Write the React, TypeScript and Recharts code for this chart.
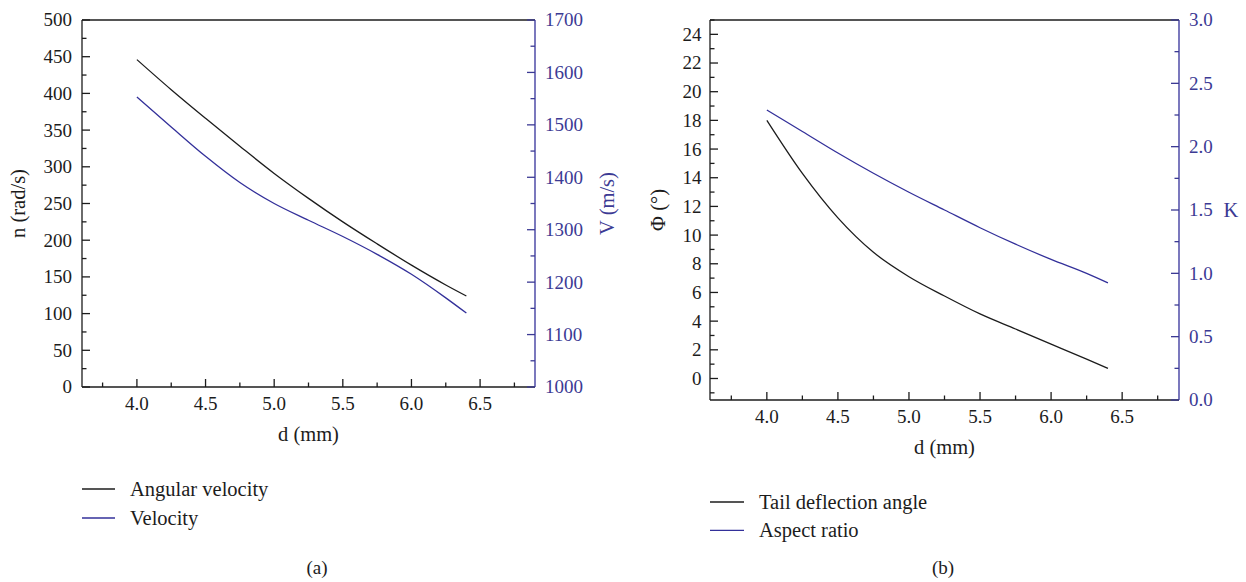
import { Legend, Line, LineChart, ReferenceLine, XAxis, YAxis } from "recharts";

// d (mm) sample points shared by both panels
const diameters = [4.0, 4.25, 4.5, 4.75, 5.0, 5.25, 5.5, 5.75, 6.0, 6.25, 6.4];

// panel (a)
const angularVelocity = [446, 405, 366, 328, 291, 257, 225, 195, 166, 139, 124];
const velocity = [1553, 1496, 1440, 1390, 1350, 1318, 1287, 1253, 1215, 1170, 1141];

// panel (b)
const tailDeflection = [18, 14.3, 11.2, 8.8, 7.1, 5.75, 4.5, 3.45, 2.4, 1.35, 0.7];
const aspectRatio = [2.29, 2.12, 1.95, 1.79, 1.64, 1.5, 1.36, 1.23, 1.11, 1.0, 0.925];

// ticks (major + minor)
const dTicks = [3.75, 4.0, 4.25, 4.5, 4.75, 5.0, 5.25, 5.5, 5.75, 6.0, 6.25, 6.5, 6.75];
const nTicks = [0, 25, 50, 75, 100, 125, 150, 175, 200, 225, 250, 275, 300, 325, 350, 375, 400, 425, 450, 475, 500];
const vTicks = [1000, 1050, 1100, 1150, 1200, 1250, 1300, 1350, 1400, 1450, 1500, 1550, 1600, 1650, 1700];
const phiTicks = [-1, 0, 1, 2, 3, 4, 5, 6, 7, 8, 9, 10, 11, 12, 13, 14, 15, 16, 17, 18, 19, 20, 21, 22, 23, 24, 25];
const kTicks = [0, 0.25, 0.5, 0.75, 1.0, 1.25, 1.5, 1.75, 2.0, 2.25, 2.5, 2.75, 3.0];

const dataA = diameters.map((d, i) => ({ d, n: angularVelocity[i], v: velocity[i] }));
const dataB = diameters.map((d, i) => ({ d, phi: tailDeflection[i], k: aspectRatio[i] }));

const FONT = '"Liberation Serif", "Times New Roman", Tinos';
const BLACK = "#1c1c1c";
const BLUE = "#33309a";
const BLUE_TEXT = "#3c3a94";

type Side = "left" | "right" | "bottom";

const makeTick =
  (side: Side, isMajor: (v: number) => boolean, fmt: (v: number) => string, color: string, gap = 10) =>
  (props: any) => {
    const { x, y, payload } = props;
    const v = payload.value;
    const major = isMajor(v);
    const len = major ? 8 : 4.5;
    const txt = { fill: color, fontSize: 19, style: { fontFamily: FONT } };
    if (side === "left") {
      return (
        <g>
          <line x1={x} x2={x + len} y1={y} y2={y} stroke={color} strokeWidth={1.3} />
          {major && (
            <text x={x - gap} y={y} dy="0.34em" textAnchor="end" {...txt}>
              {fmt(v)}
            </text>
          )}
        </g>
      );
    }
    if (side === "right") {
      return (
        <g>
          <line x1={x} x2={x - len} y1={y} y2={y} stroke={color} strokeWidth={1.3} />
          {major && (
            <text x={x + gap} y={y} dy="0.34em" textAnchor="start" {...txt}>
              {fmt(v)}
            </text>
          )}
        </g>
      );
    }
    return (
      <g>
        <line x1={x} x2={x} y1={y} y2={y - len} stroke={color} strokeWidth={1.3} />
        {major && (
          <text x={x} y={y + 23} textAnchor="middle" {...txt}>
            {fmt(v)}
          </text>
        )}
      </g>
    );
  };

const halfStep = (v: number) => Math.abs(v * 2 - Math.round(v * 2)) < 1e-6;
const fixed1 = (v: number) => v.toFixed(1);

const vLabel = (text: string, dx: number, color: string) => (props: any) => {
  const vb = props.viewBox;
  const cx = vb.x + dx;
  const cy = vb.y + vb.height / 2;
  return (
    <text
      x={cx}
      y={cy}
      textAnchor="middle"
      dominantBaseline="central"
      transform={`rotate(-90 ${cx} ${cy})`}
      fill={color}
      fontSize={20.5}
      style={{ fontFamily: FONT }}
    >
      {text}
    </text>
  );
};

const xLabel = (dy: number) => (props: any) => {
  const vb = props.viewBox;
  return (
    <text x={vb.x + vb.width / 2} y={vb.y + dy} textAnchor="middle" fill={BLACK} fontSize={20.5} style={{ fontFamily: FONT }}>
      d (mm)
    </text>
  );
};

const legendContent = (items: { label: string; color: string }[], rowGap: number, textX: number) => () =>
  (
    <svg width={320} height={70}>
      {items.map((it, i) => (
        <g key={it.label}>
          <line x1={0} x2={textX - 15} y1={13 + i * rowGap} y2={13 + i * rowGap} stroke={it.color} strokeWidth={1.3} />
          <text x={textX} y={13 + i * rowGap} dy="0.34em" fill={BLACK} fontSize={20.5} style={{ fontFamily: FONT }}>
            {it.label}
          </text>
        </g>
      ))}
    </svg>
  );

const Caption = ({ text, x, y }: { text: string; x: number; y: number }) => (
  <div
    style={{
      position: "absolute",
      left: x - 30,
      top: y - 12,
      width: 60,
      textAlign: "center",
      fontFamily: FONT,
      fontSize: 19,
      lineHeight: "24px",
      color: BLACK,
    }}
  >
    {text}
  </div>
);

export default function App() {
  return (
    <div style={{ position: "absolute", left: 0, top: 0, width: 1246, height: 582, background: "#fff", overflow: "hidden", fontFamily: FONT }}>
      <div style={{ position: "absolute", left: 0, top: 0 }}>
        <LineChart width={650} height={582} data={dataA} margin={{ top: 20, right: 0, bottom: 135, left: 0 }}>
          <XAxis
            dataKey="d"
            type="number"
            domain={[3.6, 6.9]}
            ticks={dTicks}
            interval={0}
            height={60}
            tickSize={0}
            tickMargin={0}
            tickLine={false}
            axisLine={{ stroke: BLACK, strokeWidth: 1.3 }}
            tick={makeTick("bottom", halfStep, fixed1, BLACK)}
            label={xLabel(54)}
          />
          <YAxis
            yAxisId="n"
            orientation="left"
            domain={[0, 500]}
            ticks={nTicks}
            interval={0}
            width={82}
            tickSize={0}
            tickMargin={0}
            tickLine={false}
            axisLine={{ stroke: BLACK, strokeWidth: 1.3 }}
            tick={makeTick("left", (v) => v % 50 === 0, String, BLACK)}
            label={vLabel("n (rad/s)", 18, BLACK)}
          />
          <YAxis
            yAxisId="v"
            orientation="right"
            domain={[1000, 1700]}
            ticks={vTicks}
            interval={0}
            width={115}
            tickSize={0}
            tickMargin={0}
            tickLine={false}
            axisLine={{ stroke: BLUE, strokeWidth: 1.3 }}
            tick={makeTick("right", (v) => v % 100 === 0, String, BLUE_TEXT)}
            label={vLabel("V (m/s)", 72, BLUE_TEXT)}
          />
          <ReferenceLine yAxisId="n" y={500} stroke={BLACK} strokeWidth={1.3} />
          <Line yAxisId="n" type="monotone" dataKey="n" name="Angular velocity" stroke={BLACK} strokeWidth={1.3} dot={false} isAnimationActive={false} />
          <Line yAxisId="v" type="monotone" dataKey="v" name="Velocity" stroke={BLUE} strokeWidth={1.3} dot={false} isAnimationActive={false} />
          <Legend
            layout="vertical"
            align="center"
            verticalAlign="middle"
            wrapperStyle={{ left: 82, top: 476, width: 320, height: 70 }}
            content={legendContent(
              [
                { label: "Angular velocity", color: BLACK },
                { label: "Velocity", color: BLUE },
              ],
              29,
              48
            )}
          />
        </LineChart>
      </div>

      <div style={{ position: "absolute", left: 600, top: 0 }}>
        <LineChart width={646} height={582} data={dataB} margin={{ top: 20, right: 0, bottom: 122, left: 0 }}>
          <XAxis
            dataKey="d"
            type="number"
            domain={[3.6, 6.9]}
            ticks={dTicks}
            interval={0}
            height={60}
            tickSize={0}
            tickMargin={0}
            tickLine={false}
            axisLine={{ stroke: BLACK, strokeWidth: 1.3 }}
            tick={makeTick("bottom", halfStep, fixed1, BLACK)}
            label={xLabel(54)}
          />
          <YAxis
            yAxisId="phi"
            orientation="left"
            domain={[-1.5, 25]}
            ticks={phiTicks}
            interval={0}
            width={110}
            tickSize={0}
            tickMargin={0}
            tickLine={false}
            axisLine={{ stroke: BLACK, strokeWidth: 1.3 }}
            tick={makeTick("left", (v) => v >= 0 && v <= 24 && v % 2 === 0, String, BLACK, 8.5)}
            label={vLabel("Φ (°)", 58, BLACK)}
          />
          <YAxis
            yAxisId="k"
            orientation="right"
            domain={[0, 3]}
            ticks={kTicks}
            interval={0}
            width={67}
            tickSize={0}
            tickMargin={0}
            tickLine={false}
            axisLine={{ stroke: BLUE, strokeWidth: 1.3 }}
            tick={makeTick("right", halfStep, fixed1, BLUE_TEXT)}
            label={(p: any) => {
              const vb = p.viewBox;
              return (
                <text x={vb.x + 52} y={210} dy="0.34em" textAnchor="middle" fill={BLUE_TEXT} fontSize={20.5} style={{ fontFamily: FONT }}>
                  K
                </text>
              );
            }}
          />
          <ReferenceLine yAxisId="phi" y={25} stroke={BLACK} strokeWidth={1.3} />
          <Line yAxisId="phi" type="monotone" dataKey="phi" name="Tail deflection angle" stroke={BLACK} strokeWidth={1.3} dot={false} isAnimationActive={false} />
          <Line yAxisId="k" type="monotone" dataKey="k" name="Aspect ratio" stroke={BLUE} strokeWidth={1.3} dot={false} isAnimationActive={false} />
          <Legend
            layout="vertical"
            align="center"
            verticalAlign="middle"
            wrapperStyle={{ left: 110, top: 489, width: 320, height: 70 }}
            content={legendContent(
              [
                { label: "Tail deflection angle", color: BLACK },
                { label: "Aspect ratio", color: BLUE },
              ],
              28.4,
              49
            )}
          />
        </LineChart>
      </div>

      <Caption text="(a)" x={317} y={568} />
      <Caption text="(b)" x={943} y={568} />
    </div>
  );
}
